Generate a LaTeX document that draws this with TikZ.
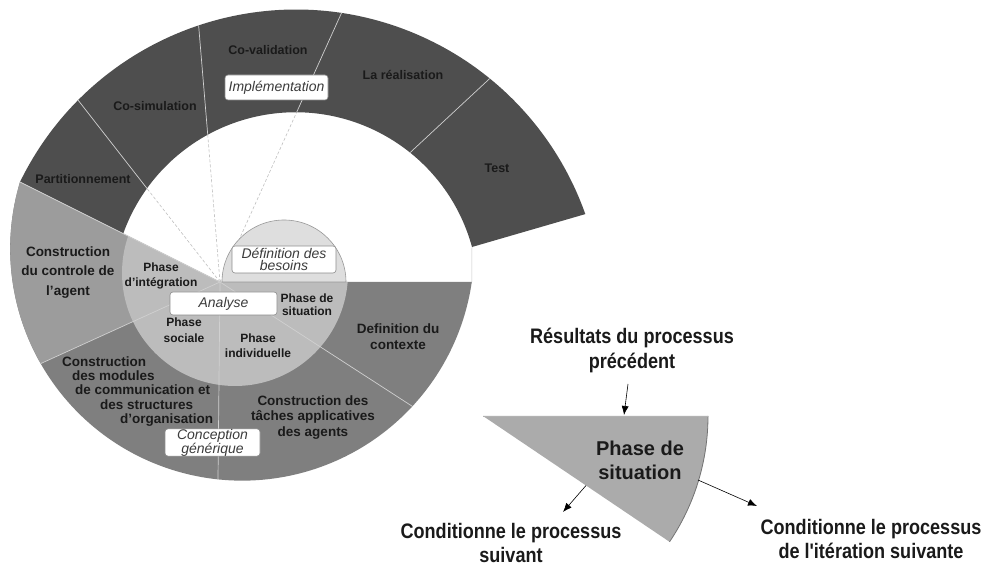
\documentclass[tikz,border=0pt]{standalone}
\usepackage{fontspec}
\setmainfont{Liberation Sans}
\newfontfamily\narrowfont[FakeStretch=0.86]{Liberation Sans}
\usetikzlibrary{arrows.meta}
\definecolor{darkring}{HTML}{4E4E4E}
\definecolor{midring}{HTML}{7F7F7F}
\definecolor{ctrlring}{HTML}{9C9C9C}
\definecolor{lightdisc}{HTML}{BCBCBC}
\definecolor{capfill}{HTML}{DEDEDE}
\definecolor{sepline}{HTML}{D0D0D0}
\definecolor{wedgefill}{HTML}{ABABAB}
\definecolor{labeltxt}{HTML}{1A1A1A}
\definecolor{boxtxt}{HTML}{3C3C3C}
\begin{document}
\begin{tikzpicture}[x=1pt,y=1pt,
  toplbl/.style={font=\bfseries\fontsize{12.5}{14}\selectfont, text=labeltxt, align=center, inner sep=0pt},
  lowlbl/.style={font=\bfseries\fontsize{13.5}{15.5}\selectfont, text=labeltxt, align=center, inner sep=0pt},
  phaselbl/.style={font=\bfseries\fontsize{12}{15}\selectfont, text=labeltxt, align=center, inner sep=0pt},
  tagbox/.style={draw=black!45, fill=white, rounded corners=3pt, line width=0.6pt,
    font=\itshape\fontsize{14}{12.5}\selectfont, text=boxtxt, align=center, inner sep=0pt},
  bigtxt/.style={font=\narrowfont\bfseries\fontsize{21}{24}\selectfont, text=labeltxt, align=center, inner sep=0pt},
  sepln/.style={draw=sepline, line width=0.7pt},
  dashsep/.style={draw=black!25, line width=0.6pt, dash pattern=on 3pt off 2pt},
  arrowln/.style={draw=black, line width=0.6pt, -{Latex[length=9pt,width=7pt]}}
]
\useasboundingbox (0,0) rectangle (982,569);

% ---------- key points ----------
\coordinate (C) at (220,287);
\coordinate (P0) at (20,387);
\coordinate (T1) at (472,322);
\coordinate (Pc) at (40.7,205.4);
\coordinate (Pv) at (218,89.6);
\coordinate (Pt) at (412.4,162.6);
\coordinate (Pr) at (471.8,287);
\coordinate (Ra) at (60,492);
\coordinate (Rb) at (196,575);
\coordinate (Rc) at (346,566);
\coordinate (Da) at (400,407);
\coordinate (Db) at (500,500);

% dashed rays in the white area
\begin{scope}
  \clip (296,274) circle[radius=183];
  \draw[dashsep] (C) -- (Ra);
  \draw[dashsep] (C) -- (Rb);
  \draw[dashsep] (C) -- (Rc);
\end{scope}

% dark outer ring (implementation)
\fill[darkring] (P0) arc[start angle=154, end angle=19.5, radius=307] -- (T1)
  arc[start angle=15.3, end angle=160.4, radius=183] -- cycle;
\begin{scope}
  \clip (P0) arc[start angle=154, end angle=19.5, radius=307] -- (T1)
  arc[start angle=15.3, end angle=160.4, radius=183] -- cycle;
  \draw[sepln] (C) -- (Ra);
  \draw[sepln] (C) -- (Rb);
  \draw[sepln] (C) -- (Rc);
  \draw[sepln] (Da) -- (Db);
\end{scope}
\draw[draw=black!22, line width=0.5pt] (T1) -- (Pr);

% grey lower ring (conception)
\fill[midring] (C) -- (P0) arc[start angle=163.3, end angle=351.75, radius=232] -- cycle;
\fill[ctrlring] (C) -- (P0) arc[start angle=163.3, end angle=209.7, radius=232] -- cycle;

% light disc (analyse)
\begin{scope}
  \clip (C) -- (P0) arc[start angle=163.3, end angle=351.75, radius=232] -- cycle;
  \fill[lightdisc] (235,296) circle[radius=113];
\end{scope}

% separators in the lower part
\draw[sepln] (C) -- (P0);
\draw[sepln] (C) -- (Pc);
\draw[sepln] (C) -- (Pv);
\draw[sepln] (C) -- (Pt);

% cap (definition des besoins)
\filldraw[fill=capfill, draw=black!40, line width=0.6pt] (222,287) arc[start angle=180, end angle=0, radius=62] -- cycle;

% ---------- labels of the outer ring ----------
\node[toplbl] (part) at (83,390) {Partitionnement};
\node[toplbl] (cosim) at (155,463) {Co-simulation};
\node[toplbl] (coval) at (268,519) {Co-validation};
\node[toplbl] (real) at (403,494) {La réalisation};
\node[toplbl] (test) at (497,401) {Test};
\node[tagbox, minimum width=103pt, minimum height=25pt] (impl) at (276.5,481.5) {Implémentation};

% ---------- labels of the lower ring ----------
\node[lowlbl, font=\bfseries\fontsize{13.5}{19.5}\selectfont] (ctrl) at (68,296.5) {Construction\\du controle de\\l'agent};
\node[lowlbl, font=\bfseries\fontsize{13.5}{14.3}\selectfont, align=left, anchor=west] (modu) at (62,177.5)
  {Construction\\\hspace*{10pt}des modules\\\hspace*{13pt}de communication et\\\hspace*{38pt}des structures\\\hspace*{58pt}d'organisation};
\node[lowlbl] (taches) at (313,151.5) {Construction des\\tâches applicatives\\des agents};
\node[lowlbl, font=\bfseries\fontsize{13.5}{16}\selectfont] (ctx) at (398,232) {Definition du\\contexte};
\node[tagbox, minimum width=95pt, minimum height=25pt] (concep) at (212.5,126.5) {Conception\\générique};

% ---------- labels of the inner disc ----------
\node[phaselbl] (integ) at (161,293.5) {Phase\\d'intégration};
\node[phaselbl, font=\bfseries\fontsize{12}{13}\selectfont] (situ) at (307,264.5) {Phase de\\situation};
\node[phaselbl, font=\bfseries\fontsize{12}{16}\selectfont] (soc) at (184,239) {Phase\\sociale};
\node[phaselbl] (indiv) at (258,223.5) {Phase\\individuelle};
\node[tagbox, minimum width=107pt, minimum height=23pt] (analyse) at (223.5,265.5) {Analyse};
\node[tagbox, minimum width=104pt, minimum height=27pt] (besoins) at (284,309.5) {Définition des\\besoins};

% ---------- right part ----------
\coordinate (W) at (483,153);
\fill[wedgefill] (W) -- ++(225,0) arc[start angle=0, end angle=-34, radius=225] -- cycle;
\draw[black!55, line width=0.8pt] (W) ++(225,0) arc[start angle=0, end angle=-34, radius=225];
\draw[black!30, line width=0.4pt] (W) -- ++(225,0);

\node[bigtxt, font=\narrowfont\bfseries\fontsize{21}{25}\selectfont] (res) at (632,218.5) {Résultats du processus\\précédent};
\node[font=\bfseries\fontsize{20}{24}\selectfont, text=labeltxt, align=center, inner sep=0pt] (phs) at (640,109) {Phase de\\situation};
\node[bigtxt] (cond1) at (511,26) {Conditionne le processus\\suivant};
\node[bigtxt] (cond2) at (871,30) {Conditionne le processus\\de l'itération suivante};

\coordinate (a1s) at (628,185);
\coordinate (a1e) at (624,154);
\coordinate (a2s) at (586,83.5);
\coordinate (a2e) at (563,57);
\coordinate (a3s) at (698,89);
\coordinate (a3e) at (757,63);
\draw[arrowln] (a1s) -- (a1e);
\draw[arrowln] (a2s) -- (a2e);
\draw[arrowln] (a3s) -- (a3e);
\end{tikzpicture}
\end{document}
